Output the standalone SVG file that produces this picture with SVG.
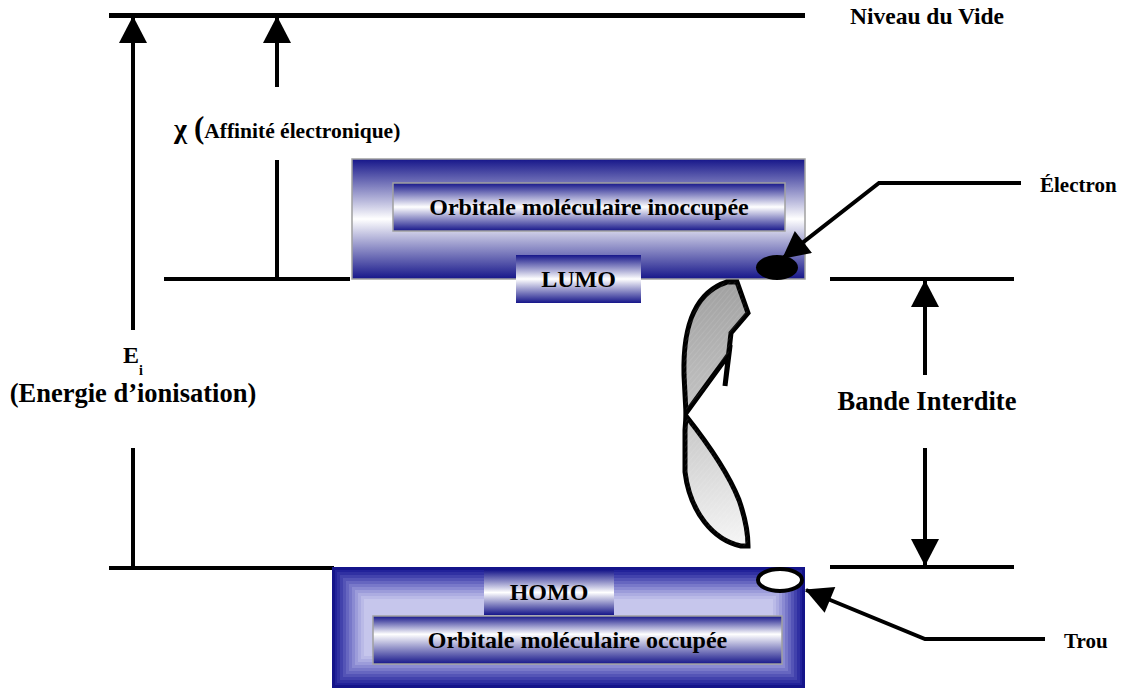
<svg xmlns="http://www.w3.org/2000/svg" width="1124" height="689" viewBox="0 0 1124 689">
<defs>
<marker id="ah" markerUnits="userSpaceOnUse" markerWidth="28" markerHeight="28" viewBox="0 0 26 27" refX="25" refY="13.5" orient="auto">
<path d="M0,0 L26,13.5 L0,27 z" fill="#000"/>
</marker>
<linearGradient id="cyl" x1="0" y1="0" x2="0" y2="1">
<stop offset="0" stop-color="#16168a"/>
<stop offset="0.5" stop-color="#ffffff"/>
<stop offset="1" stop-color="#16168a"/>
</linearGradient>
<linearGradient id="cyl2" x1="0" y1="0" x2="0" y2="1">
<stop offset="0" stop-color="#16168a"/>
<stop offset="0.38" stop-color="#ffffff"/>
<stop offset="1" stop-color="#16168a"/>
</linearGradient>
<linearGradient id="bolt" gradientUnits="userSpaceOnUse" x1="700" y1="282" x2="740" y2="546">
<stop offset="0" stop-color="#a0a0a0"/>
<stop offset="0.45" stop-color="#c2c2c2"/>
<stop offset="1" stop-color="#f6f6f6"/>
</linearGradient>
<pattern id="hatch" width="4" height="4" patternUnits="userSpaceOnUse" patternTransform="rotate(40)">
<line x1="0" y1="0" x2="0" y2="4" stroke="#ffffff" stroke-opacity="0.18" stroke-width="1"/>
</pattern>
</defs>
<style>
.ln{stroke:#000;stroke-width:4;fill:none}
.lvl{stroke:#000;stroke-width:4;fill:none}
.t{font-family:"Liberation Serif","Times New Roman",serif;font-weight:bold;fill:#000}
.box{stroke:#a0a0a0;stroke-width:1.5}
.boltp{stroke:#000;stroke-width:5;stroke-linejoin:miter}
</style>
<rect width="1124" height="689" fill="#fff"/>

<g id="levels">
<line class="lvl" x1="109" y1="15.5" x2="805" y2="15.5" style="stroke-width:5"/>
<line class="lvl" x1="164" y1="279" x2="350" y2="279"/>
<line class="lvl" x1="830" y1="279" x2="1014" y2="279"/>
<line class="lvl" x1="109" y1="568" x2="334" y2="568"/>
<line class="lvl" x1="830" y1="567" x2="1014" y2="567"/>
</g>

<g id="lumo-band">
<rect class="box" x="352" y="159" width="453" height="120" fill="url(#cyl)"/>
<g id="lumo-inner">
<rect class="box" x="393" y="183" width="392" height="48" fill="url(#cyl)"/>
<text class="t" x="589" y="215" font-size="24" text-anchor="middle">Orbitale moléculaire inoccupée</text>
</g>
<g id="lumo-label">
<rect x="516" y="255" width="125" height="48" fill="url(#cyl)"/>
<text class="t" x="578.5" y="287" font-size="24" text-anchor="middle">LUMO</text>
</g>
</g>

<g id="homo-band">
<rect x="332" y="567" width="473" height="121" fill="#14148a"/>
<rect x="335" y="570" width="467" height="115" fill="#22229a"/>
<rect x="337" y="572" width="463" height="111" fill="#3030a2"/>
<rect x="340" y="575" width="457" height="105" fill="#4242ac"/>
<rect x="343" y="578" width="451" height="99" fill="#5454b6"/>
<rect x="346" y="581" width="445" height="93" fill="#6666c0"/>
<rect x="349" y="584" width="439" height="87" fill="#7878c9"/>
<rect x="352" y="587" width="433" height="81" fill="#8a8ad2"/>
<rect x="355" y="590" width="427" height="75" fill="#9c9cda"/>
<rect x="358" y="593" width="421" height="69" fill="#acace1"/>
<rect x="361" y="596" width="415" height="63" fill="#babae7"/>
<rect x="364" y="599" width="409" height="57" fill="#c6c6ec"/>
<g id="homo-label">
<rect x="484" y="570" width="130" height="45" fill="url(#cyl)"/>
<text class="t" x="549" y="600" font-size="24" text-anchor="middle">HOMO</text>
</g>
<g id="homo-inner">
<rect class="box" x="373" y="616" width="409" height="48" fill="url(#cyl2)"/>
<text class="t" x="577.5" y="648" font-size="24" text-anchor="middle">Orbitale moléculaire occupée</text>
</g>
</g>

<g id="electron">
<ellipse cx="777" cy="267.5" rx="21" ry="12.5" fill="#000"/>
</g>
<g id="hole">
<ellipse cx="780" cy="580" rx="22" ry="11" fill="#fff" stroke="#000" stroke-width="4"/>
</g>

<g id="excitation">
<path class="boltp" d="M727,282 L737,282 L748,313 L731,333 L725,386 L729,354 L686,413 L684,375 C683,335 690,294 727,282 Z" fill="url(#bolt)"/>
<path d="M727,282 L737,282 L748,313 L731,333 L725,386 L729,354 L686,413 L684,375 C683,335 690,294 727,282 Z" fill="url(#hatch)"/>
<path class="boltp" d="M686,416 C705,440 728,472 739,500 C746,520 748,535 748,546 L741,546 C713,540 690,512 685,472 L685,430 Z" fill="url(#bolt)"/>
<path d="M686,416 C705,440 728,472 739,500 C746,520 748,535 748,546 L741,546 C713,540 690,512 685,472 L685,430 Z" fill="url(#hatch)"/>
</g>

<g id="connectors">
<line class="ln" x1="133" y1="568" x2="133" y2="448"/>
<line class="ln" x1="133" y1="330" x2="133" y2="17" marker-end="url(#ah)"/>
<line class="ln" x1="277" y1="279" x2="277" y2="160"/>
<line class="ln" x1="277" y1="87" x2="277" y2="17" marker-end="url(#ah)"/>
<line class="ln" x1="925" y1="375" x2="925" y2="281" marker-end="url(#ah)"/>
<line class="ln" x1="925" y1="448" x2="925" y2="565" marker-end="url(#ah)"/>
<polyline class="ln" points="1021,183 879,183 783,258" marker-end="url(#ah)"/>
<polyline class="ln" points="1045,639 925,639 806,590" marker-end="url(#ah)"/>
</g>

<g id="labels">
<text class="t" x="927" y="24" font-size="23.5" text-anchor="middle">Niveau du Vide</text>
<text class="t" x="1040" y="192" font-size="21">Électron</text>
<text class="t" x="1064" y="648" font-size="21">Trou</text>
<text class="t" x="927" y="410" font-size="26.5" text-anchor="middle">Bande Interdite</text>
<text class="t" x="123" y="363" font-size="24">E<tspan font-size="14" dy="12">i</tspan></text>
<text class="t" x="133" y="402" font-size="26.5" text-anchor="middle">(Energie d’ionisation)</text>
<text class="t" x="174" y="138"><tspan font-size="28">χ </tspan><tspan font-size="31">(</tspan><tspan font-size="21.5">Affinité électronique)</tspan></text>
</g>
</svg>
